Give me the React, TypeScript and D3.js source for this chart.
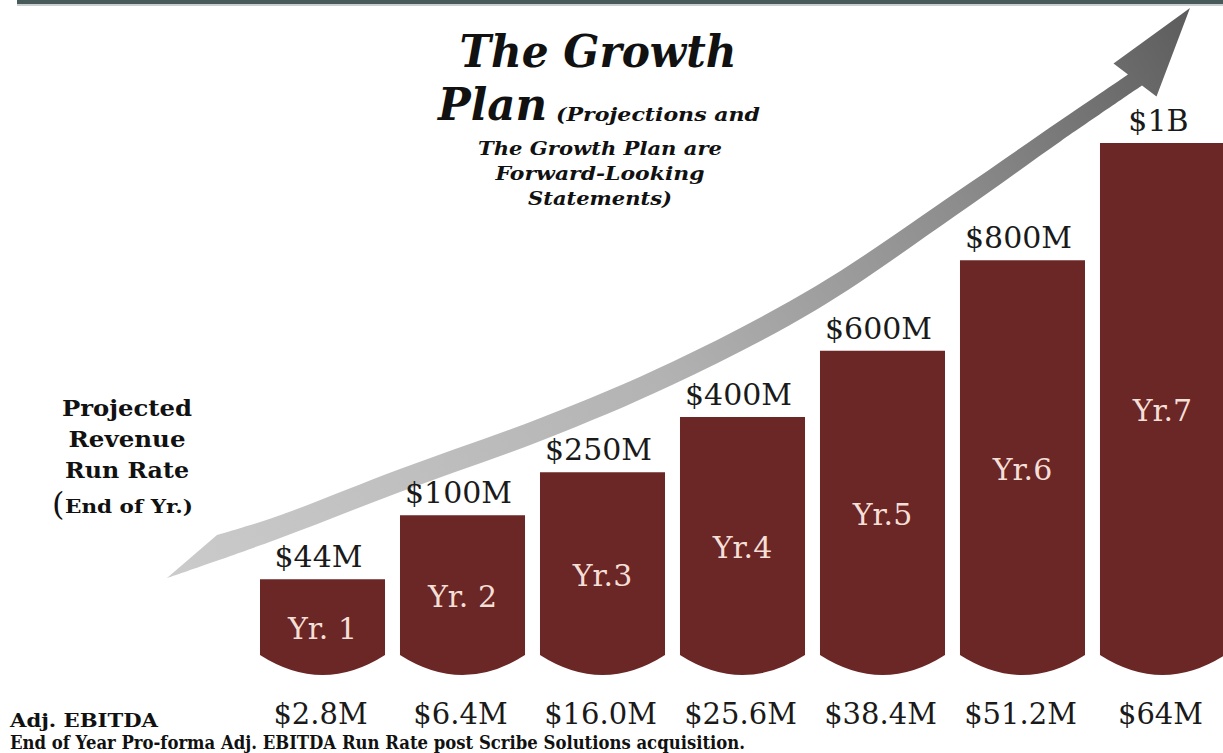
import React from "react";
import * as d3 from "d3";

// ---- data ----
const years = ["Yr. 1", "Yr. 2", "Yr.3", "Yr.4", "Yr.5", "Yr.6", "Yr.7"];
const revenueLabels = ["$44M", "$100M", "$250M", "$400M", "$600M", "$800M", "$1B"];
const revenueValues = [44, 100, 250, 400, 600, 800, 1000]; // $M, projected run rate
// bar heights as drawn in the (stylised, non-proportional) picture, read on an implied axis where Yr.7 = 1000
const drawnLevels = [148, 273, 357, 465, 594, 771, 1000];
const ebitdaLabels = ["$2.8M", "$6.4M", "$16.0M", "$25.6M", "$38.4M", "$51.2M", "$64M"];
const ebitdaValues = [2.8, 6.4, 16.0, 25.6, 38.4, 51.2, 64];

const titleLine1 = "The Growth";
const titleLine2 = "Plan";
const noteLines = ["(Projections and", "The Growth Plan are", "Forward-Looking", "Statements)"];
const axisLabelLines = ["Projected", "Revenue", "Run Rate"];
const footLabel = "Adj. EBITDA";
const footNote = "End of Year Pro-forma Adj. EBITDA Run Rate post Scribe Solutions acquisition.";

// ---- decorative arrow guide (not data) ----
const arrowUpper: [number, number][] = [
  [217, 535], [275, 517], [400, 469], [543, 417], [672, 362], [816, 286], [955, 193], [1061, 120], [1128, 74.5],
];
const arrowLower: [number, number][] = [
  [167, 578], [275, 540], [400, 492], [543, 440], [672, 385], [816, 310], [955, 216], [1061, 141], [1142, 85.5],
];
const arrowHead: [number, number][] = [[1113.5, 63.6], [1190, 8], [1156.5, 96.4]];

const W = 1223;
const H = 753;
const BAR = "#6b2626";
const SERIF = "'DejaVu Serif', 'Liberation Serif', serif";

const noteWidths = [204, 244, 209, 144];
const axisWidths = [130, 117, 124];

export default function App() {
  const x = d3.scaleBand<string>().domain(years).range([260, 1225]).paddingInner(0.107).paddingOuter(0);
  const y = d3.scaleLinear().domain([0, 1000]).range([655, 143]);
  const sag = 20;
  const base = y(0);

  const barPath = (i: number) => {
    const x0 = x(years[i])!;
    const x1 = x0 + x.bandwidth();
    const top = y(drawnLevels[i]);
    const cx = (x0 + x1) / 2;
    const p = d3.path();
    p.moveTo(x0, top);
    p.lineTo(x1, top);
    p.lineTo(x1, base);
    p.quadraticCurveTo(cx, base + 2 * sag, x0, base);
    p.closePath();
    return p.toString();
  };

  const line = d3.line().curve(d3.curveCatmullRom.alpha(0.5));
  const upperD = line(arrowUpper)!;
  const lowerD = line([...arrowLower].reverse())!;
  const arrowD =
    upperD +
    arrowHead.map((p) => `L${p[0]},${p[1]}`).join("") +
    lowerD.replace(/^M/, "L") +
    "Z";

  return (
    <svg
      width={W}
      height={H}
      style={{ position: "absolute", left: 0, top: 0, background: "#fff" }}
      xmlns="http://www.w3.org/2000/svg"
    >
      <defs>
        <linearGradient id="arrowGrad" gradientUnits="userSpaceOnUse" x1={167} y1={578} x2={1190} y2={8}>
          <stop offset="0" stopColor="#cbcbcb" />
          <stop offset="0.45" stopColor="#b3b3b3" />
          <stop offset="0.75" stopColor="#8c8c8c" />
          <stop offset="1" stopColor="#5c5c5c" />
        </linearGradient>
      </defs>
      <rect x={0} y={0} width={W} height={H} fill="#fff" />
      <rect x={17} y={0} width={W - 17} height={4} fill="#485a5a" />
      <rect x={17} y={4} width={W - 17} height={2} fill="#c9d0d0" />

      {/* title */}
      <text x={598} y={67} textAnchor="middle" fontFamily={SERIF} fontWeight="bold" fontStyle="italic" fontSize={45} textLength={277} lengthAdjust="spacingAndGlyphs" fill="#111">
        {titleLine1}
      </text>
      <text x={438} y={120} fontFamily={SERIF} fontWeight="bold" fontStyle="italic" fontSize={45} textLength={109} lengthAdjust="spacingAndGlyphs" fill="#111">
        {titleLine2}
      </text>
      <text x={556} y={121} fontFamily={SERIF} fontWeight="bold" fontStyle="italic" fontSize={19} textLength={noteWidths[0]} lengthAdjust="spacingAndGlyphs" fill="#111">
        {noteLines[0]}
      </text>
      {noteLines.slice(1).map((t, i) => (
        <text key={t} x={600} y={155 + i * 25} textAnchor="middle" fontFamily={SERIF} fontWeight="bold" fontStyle="italic" fontSize={19} textLength={noteWidths[i + 1]} lengthAdjust="spacingAndGlyphs" fill="#111">
          {t}
        </text>
      ))}

      {/* arrow */}
      <path d={arrowD} fill="url(#arrowGrad)" />

      {/* left label */}
      {axisLabelLines.map((t, i) => (
        <text key={t} x={127} y={416 + i * 31} textAnchor="middle" fontFamily={SERIF} fontWeight="bold" fontSize={22} textLength={axisWidths[i]} lengthAdjust="spacingAndGlyphs" fill="#111">
          {t}
        </text>
      ))}
      <text x={52} y={515} fontFamily={SERIF} fill="#111">
        <tspan fontSize={32}>(</tspan>
      </text>
      <text x={65} y={513} fontFamily={SERIF} fontWeight="bold" fontSize={19} textLength={128} lengthAdjust="spacingAndGlyphs" fill="#111">
        End of Yr.)
      </text>

      {/* bars */}
      {years.map((yr, i) => {
        const x0 = x(yr)!;
        const cx = x0 + x.bandwidth() / 2;
        const top = y(drawnLevels[i]);
        return (
          <g key={yr}>
            <path d={barPath(i)} fill={BAR} />
            <text x={cx} y={(top + base) / 2 + 22} textAnchor="middle" fontFamily={SERIF} fontSize={30} fill="#f4dfd6">
              {yr}
            </text>
            <text x={cx - 4} y={top - 12} textAnchor="middle" fontFamily={SERIF} fontSize={30} fill="#1a1a1a" data-value={revenueValues[i]}>
              {revenueLabels[i]}
            </text>
            <text x={cx - 2} y={724} textAnchor="middle" fontFamily={SERIF} fontSize={29} fill="#1a1a1a" data-value={ebitdaValues[i]}>
              {ebitdaLabels[i]}
            </text>
          </g>
        );
      })}

      {/* footer */}
      <text x={10} y={727} fontFamily={SERIF} fontWeight="bold" fontSize={18} textLength={148} lengthAdjust="spacingAndGlyphs" fill="#111">
        {footLabel}
      </text>
      <text x={10} y={749} fontFamily={SERIF} fontWeight="bold" fontSize={18} textLength={735} lengthAdjust="spacingAndGlyphs" fill="#111">
        {footNote}
      </text>
    </svg>
  );
}
